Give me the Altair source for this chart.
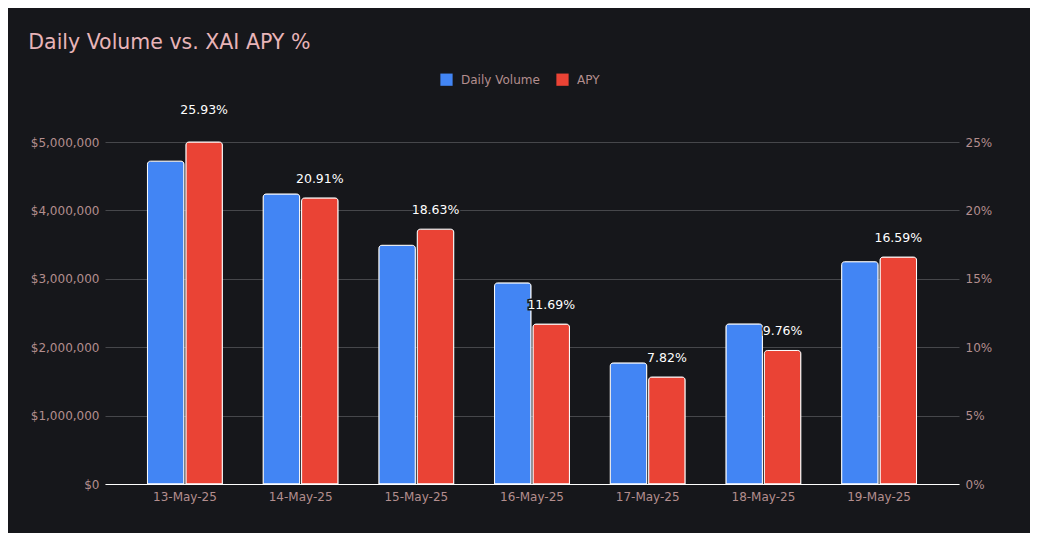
import altair as alt
import pandas as pd

dates = ["13-May-25", "14-May-25", "15-May-25", "16-May-25", "17-May-25", "18-May-25", "19-May-25"]
volume = [4720000, 4240000, 3490000, 2940000, 1770000, 2340000, 3250000]
apy = [25.93, 20.91, 18.63, 11.69, 7.82, 9.76, 16.59]
series = ["Daily Volume", "APY"]
colors = ["#4285f4", "#ea4335"]
vol_ticks = [0, 1000000, 2000000, 3000000, 4000000, 5000000]
apy_ticks = [0, 5, 10, 15, 20, 25]

rows = []
for d, v, a in zip(dates, volume, apy):
    rows.append({"date": d, "series": "Daily Volume", "value": v, "label": ""})
    rows.append({"date": d, "series": "APY", "value": a, "label": f"{a:.2f}%"})
df = pd.DataFrame(rows)

BG = "#16171b"
LABEL = "#b38e8e"
FONT = "DejaVu Sans"
GRID = "#46474b"

x = alt.X(
    "date:N", sort=dates, title=None,
    scale=alt.Scale(paddingInner=0.3525, paddingOuter=0.367),
    axis=alt.Axis(labelAngle=0, ticks=False, domainColor="#ffffff", domainWidth=1,
                  labelPadding=7, labelColor=LABEL, labelFontSize=12, labelFont=FONT, grid=False),
)
xoff = alt.XOffset("series:N", sort=series, scale=alt.Scale(domain=series, paddingInner=0.05))
fill = alt.Fill(
    "series:N",
    scale=alt.Scale(domain=series, range=colors),
    legend=alt.Legend(
        title=None, orient="none", legendX=335, legendY=-69, direction="horizontal",
        symbolType="square", symbolSize=150, symbolStrokeWidth=0, symbolOpacity=1,
        labelColor=LABEL, labelFontSize=12, labelFont=FONT, labelOffset=8, columnPadding=16,
    ),
)

base = alt.Chart(df)
bar_style = dict(stroke="white", strokeWidth=1, cornerRadiusTopLeft=3, cornerRadiusTopRight=3,
                 fillOpacity=1)

vol_bars = base.transform_filter(alt.datum.series == "Daily Volume").mark_bar(**bar_style).encode(
    x=x, xOffset=xoff, fill=fill,
    y=alt.Y("value:Q", title=None, scale=alt.Scale(domain=[0, 5000000], nice=False, clamp=True),
            axis=alt.Axis(orient="left", values=vol_ticks, format="$,.0f", ticks=False, domain=False,
                          grid=True, gridColor=GRID, labelPadding=6, labelColor=LABEL,
                          labelFontSize=12, labelFont=FONT)),
)

apy_y_axis = alt.Y("value:Q", title=None, scale=alt.Scale(domain=[0, 25], nice=False, clamp=True),
                   axis=alt.Axis(orient="right", values=apy_ticks, labelExpr="datum.value + '%'",
                                 ticks=False, domain=False, grid=False, labelPadding=6,
                                 labelColor=LABEL, labelFontSize=12, labelFont=FONT))
apy_bars = base.transform_filter(alt.datum.series == "APY").mark_bar(**bar_style).encode(
    x=x, xOffset=xoff, fill=fill, y=apy_y_axis,
)

text_y = alt.Y("value:Q", title=None, scale=alt.Scale(domain=[0, 25], nice=False), axis=None)
halo = base.transform_filter(alt.datum.series == "APY").mark_text(
    dy=-15, baseline="alphabetic", fontSize=12.5, font=FONT, fill=BG, stroke=BG, strokeWidth=3,
).encode(x=x, xOffset=xoff, y=text_y, text="label:N")
labels = base.transform_filter(alt.datum.series == "APY").mark_text(
    dy=-15, baseline="alphabetic", fontSize=12.5, font=FONT, fill="#ffffff",
).encode(x=x, xOffset=xoff, y=text_y, text="label:N")

chart = alt.layer(vol_bars, apy_bars, halo, labels).resolve_scale(y="independent").properties(
    width=854, height=342,
    title=alt.Title("Daily Volume vs. XAI APY %", anchor="start", color="#e8b4b8", fontSize=20.5,
                    fontWeight="normal", font=FONT, dx=-2, offset=20),
    autosize=alt.AutoSizeParams(type="none"),
    padding={"left": 97, "top": 134, "right": 71, "bottom": 49},
    background=BG,
).configure_view(stroke=None)

chart.save("out.html", embed_options={"renderer": "svg", "actions": False})
